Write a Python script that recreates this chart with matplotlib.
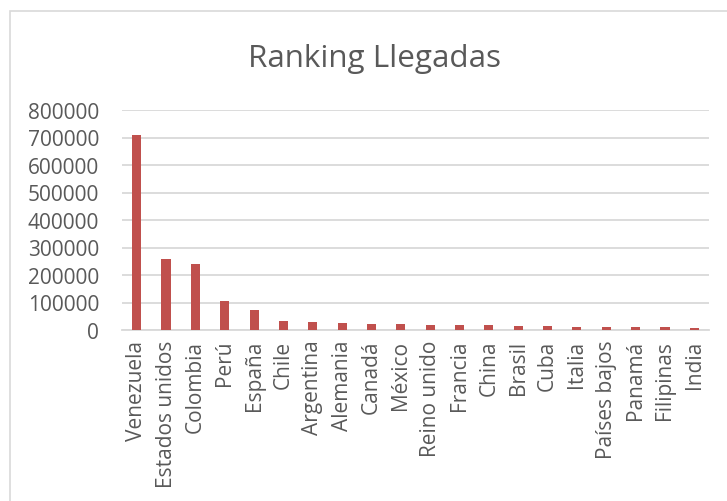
import matplotlib.pyplot as plt
from matplotlib.patches import Rectangle

paises = ['Venezuela', 'Estados unidos', 'Colombia', 'Perú', 'España', 'Chile',
          'Argentina', 'Alemania', 'Canadá', 'México', 'Reino unido', 'Francia',
          'China', 'Brasil', 'Cuba', 'Italia', 'Países bajos', 'Panamá',
          'Filipinas', 'India']
llegadas = [709000, 259000, 240000, 105000, 72000, 33000, 29000, 24000, 21500,
            20500, 20000, 19500, 19000, 15500, 14500, 12500, 12000, 11000,
            9800, 7500]
yticks = [0, 100000, 200000, 300000, 400000, 500000, 600000, 700000, 800000]

plt.rcParams['font.family'] = ['Open Sans', 'DejaVu Sans']
gris = '#595959'
linea = '#D9D9D9'

fig = plt.figure(figsize=(7.27, 5.02), dpi=100)
ax = fig.add_axes([122 / 727, 1 - 331 / 502, 587 / 727, 220 / 502])

x = range(len(paises))
ax.bar(x, llegadas, width=0.31, color='#C0504D', zorder=3)

ax.set_xlim(-0.5, len(paises) - 0.5)
ax.set_ylim(0, 800000)
ax.set_yticks(yticks)
ax.set_yticklabels([str(v) for v in yticks])
ax.set_xticks(list(x))
ax.set_xticklabels(paises, rotation=90)
ax.grid(axis='y', color=linea, linewidth=1.3, zorder=0)
ax.tick_params(axis='y', length=0, pad=16.5, labelsize=15, labelcolor=gris)
ax.tick_params(axis='x', length=0, pad=7, labelsize=15, labelcolor=gris)
for s in ['top', 'right', 'left']:
    ax.spines[s].set_visible(False)
ax.spines['bottom'].set_color(linea)
ax.spines['bottom'].set_linewidth(1.3)

# titulo
fig.text(374 / 727, 1 - 67 / 502, 'Ranking Llegadas', ha='center', va='baseline',
         fontsize=22.6, color=gris)

# borde del grafico
fig.patches.append(Rectangle((10 / 727, -0.1), 1.2, 1.1 - 12 / 502,
                             transform=fig.transFigure, fill=False,
                             edgecolor=linea, linewidth=1.2))

fig.savefig('out.png', dpi=100, facecolor='white')
